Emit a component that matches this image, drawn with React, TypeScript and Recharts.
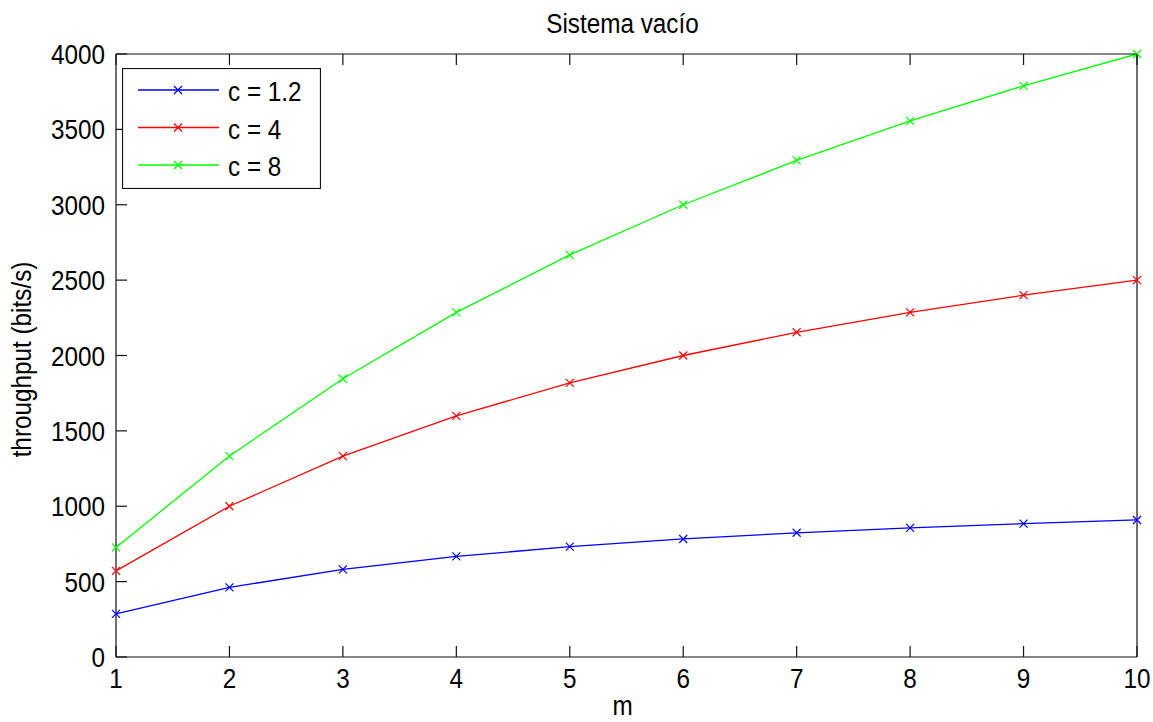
import React from 'react';
import { LineChart, Line, XAxis, YAxis, Legend, Label } from 'recharts';

// m values on the x axis
const mValues = [1, 2, 3, 4, 5, 6, 7, 8, 9, 10];

// throughput (bits/s) for each capacity
const throughputC12 = [286, 462, 581, 667, 732, 783, 824, 857, 885, 909];
const throughputC4 = [571, 1000, 1333, 1600, 1818, 2000, 2154, 2286, 2400, 2500];
const throughputC8 = [727, 1333, 1846, 2286, 2667, 3000, 3294, 3556, 3789, 4000];

const yTicks = [0, 500, 1000, 1500, 2000, 2500, 3000, 3500, 4000];

const series = [
  { key: 'c12', name: 'c = 1.2', color: '#0000ff', values: throughputC12 },
  { key: 'c4', name: 'c = 4', color: '#ff0000', values: throughputC4 },
  { key: 'c8', name: 'c = 8', color: '#00ff00', values: throughputC8 },
];

const data = mValues.map((m, i) => {
  const row: any = { m };
  series.forEach((s) => {
    row[s.key] = s.values[i];
  });
  return row;
});

const FONT = "'Liberation Sans', Arial, sans-serif";
const FONT_SIZE = 27;
const SCALE_X = 0.9;
const TICK_LEN = 11;
const AXIS_COLOR = '#111';

// text squeezed horizontally, the figure font is a narrow one
const NarrowText = ({ x, y, anchor = 'start', rotate = 0, children }: any) => (
  <g transform={`translate(${x}, ${y}) rotate(${rotate}) scale(${SCALE_X}, 1)`}>
    <text x={0} y={0} textAnchor={anchor} fontFamily={FONT} fontSize={FONT_SIZE} fill="#000">
      {children}
    </text>
  </g>
);

// 'x' shaped marker
const CrossDot = (props: any) => {
  const { cx, cy, stroke, index } = props;
  if (cx == null || cy == null) return null;
  const r = 4;
  return (
    <g key={`dot-${index}`}>
      <line x1={cx - r} y1={cy - r} x2={cx + r} y2={cy + r} stroke={stroke} strokeWidth={1.2} />
      <line x1={cx - r} y1={cy + r} x2={cx + r} y2={cy - r} stroke={stroke} strokeWidth={1.2} />
    </g>
  );
};

const BottomTick = (props: any) => {
  const { x, y, payload } = props;
  return (
    <g>
      <line x1={x} y1={y} x2={x} y2={y - TICK_LEN} stroke={AXIS_COLOR} strokeWidth={1.2} />
      <NarrowText x={x} y={y + 31} anchor="middle">
        {payload.value}
      </NarrowText>
    </g>
  );
};

const TopTick = (props: any) => {
  const { x, y } = props;
  return <line x1={x} y1={y} x2={x} y2={y + TICK_LEN} stroke={AXIS_COLOR} strokeWidth={1.2} />;
};

const LeftTick = (props: any) => {
  const { x, y, payload } = props;
  return (
    <g>
      <line x1={x} y1={y} x2={x + TICK_LEN} y2={y} stroke={AXIS_COLOR} strokeWidth={1.2} />
      <NarrowText x={x - 11} y={y + 10} anchor="end">
        {payload.value}
      </NarrowText>
    </g>
  );
};

const RightTick = (props: any) => {
  const { x, y } = props;
  return <line x1={x} y1={y} x2={x - TICK_LEN} y2={y} stroke={AXIS_COLOR} strokeWidth={1.2} />;
};

const LegendBox = () => (
  <svg width={199} height={121} style={{ display: 'block' }}>
    <rect x={0.5} y={0.5} width={198} height={120} fill="#fff" stroke={AXIS_COLOR} strokeWidth={1.2} />
    {series.map((s, i) => {
      const cy = 22 + i * 37.5;
      return (
        <g key={s.key}>
          <line x1={16} y1={cy} x2={97} y2={cy} stroke={s.color} strokeWidth={1.3} />
          <CrossDot cx={56} cy={cy} stroke={s.color} index={i} />
          <NarrowText x={106} y={cy + 11}>
            {s.name}
          </NarrowText>
        </g>
      );
    })}
  </svg>
);

export default function App() {
  return (
    <div style={{ position: 'absolute', left: 0, top: 0, width: 1153, height: 722, background: '#fff' }}>
      <LineChart
        width={1153}
        height={722}
        data={data}
        margin={{ top: 53, right: 15, bottom: 25, left: 56 }}
      >
        <XAxis
          dataKey="m"
          type="number"
          domain={[1, 10]}
          ticks={mValues}
          height={40}
          tickSize={0}
          tickMargin={0}
          tick={<BottomTick />}
          axisLine={{ stroke: AXIS_COLOR, strokeWidth: 1.2 }}
          interval={0}
        >
          <Label
            content={(p: any) => (
              <NarrowText x={p.viewBox.x + p.viewBox.width / 2 - 4} y={715} anchor="middle">
                m
              </NarrowText>
            )}
          />
        </XAxis>
        <XAxis
          xAxisId="top"
          orientation="top"
          dataKey="m"
          type="number"
          domain={[1, 10]}
          ticks={mValues}
          height={1}
          tickSize={0}
          tickMargin={0}
          tick={<TopTick />}
          axisLine={{ stroke: AXIS_COLOR, strokeWidth: 1.2 }}
          interval={0}
        >
          <Label
            content={(p: any) => (
              <NarrowText x={p.viewBox.x + p.viewBox.width / 2 - 4} y={33} anchor="middle">
                Sistema vacío
              </NarrowText>
            )}
          />
        </XAxis>
        <YAxis
          type="number"
          domain={[0, 4000]}
          ticks={yTicks}
          width={60}
          tickSize={0}
          tickMargin={0}
          tick={<LeftTick />}
          axisLine={{ stroke: AXIS_COLOR, strokeWidth: 1.2 }}
          interval={0}
        >
          <Label
            content={(p: any) => (
              <NarrowText x={31} y={p.viewBox.y + p.viewBox.height / 2 + 4} anchor="middle" rotate={-90}>
                throughput (bits/s)
              </NarrowText>
            )}
          />
        </YAxis>
        <YAxis
          yAxisId="right"
          orientation="right"
          type="number"
          domain={[0, 4000]}
          ticks={yTicks}
          width={1}
          tickSize={0}
          tickMargin={0}
          tick={<RightTick />}
          axisLine={{ stroke: AXIS_COLOR, strokeWidth: 1.2 }}
          interval={0}
        />
        <Legend
          layout="vertical"
          align="center"
          verticalAlign="middle"
          content={() => <LegendBox />}
          wrapperStyle={{ position: 'absolute', left: 122, top: 68, width: 199, height: 121 }}
        />
        {series.map((s) => (
          <Line
            key={s.key}
            type="linear"
            dataKey={s.key}
            name={s.name}
            stroke={s.color}
            strokeWidth={1.3}
            dot={<CrossDot />}
            activeDot={false}
            isAnimationActive={false}
          />
        ))}
      </LineChart>
    </div>
  );
}
